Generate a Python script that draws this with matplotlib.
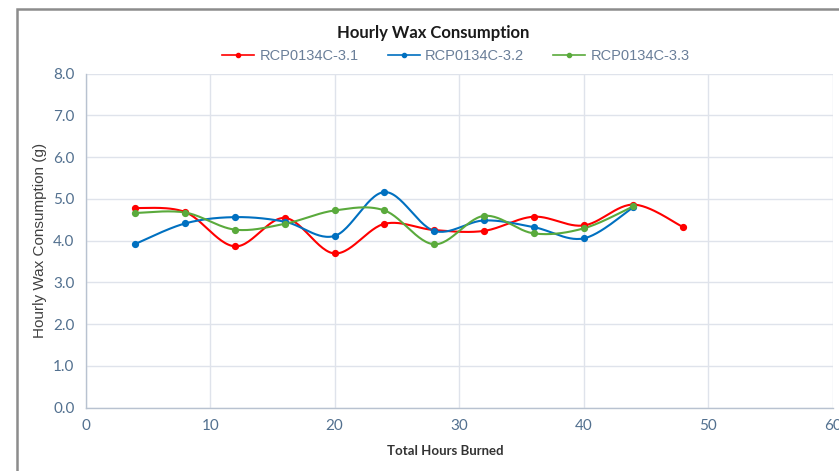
import numpy as np
import matplotlib
matplotlib.use("Agg")
import matplotlib.pyplot as plt
from matplotlib.patches import Rectangle

# ---- data ----
hours_31 = [4, 8, 12, 16, 20, 24, 28, 32, 36, 40, 44, 48]
wax_31 = [4.78, 4.68, 3.86, 4.54, 3.69, 4.40, 4.25, 4.23, 4.57, 4.36, 4.86, 4.32]
hours_32 = [4, 8, 12, 16, 20, 24, 28, 32, 36, 40, 44]
wax_32 = [3.92, 4.41, 4.56, 4.45, 4.11, 5.16, 4.23, 4.48, 4.32, 4.05, 4.80]
hours_33 = [4, 8, 12, 16, 20, 24, 28, 32, 36, 40, 44]
wax_33 = [4.66, 4.67, 4.26, 4.40, 4.72, 4.72, 3.91, 4.59, 4.17, 4.29, 4.82]
series_names = ["RCP0134C-3.1", "RCP0134C-3.2", "RCP0134C-3.3"]
colors = ["#ff0000", "#0070c0", "#5aaa3c"]
x_ticks = [0, 10, 20, 30, 40, 50, 60]
y_ticks = [0.0, 1.0, 2.0, 3.0, 4.0, 5.0, 6.0, 7.0, 8.0]


def smooth(xs, ys, n=30):
    """Excel-like smoothed line (Catmull-Rom Bezier) through data points."""
    p = np.column_stack([xs, ys]).astype(float)
    out = [p[0]]
    t = np.linspace(0, 1, n)[1:]
    for i in range(len(p) - 1):
        p0 = p[i - 1] if i > 0 else p[i]
        p1 = p[i]
        p2 = p[i + 1]
        p3 = p[i + 2] if i + 2 < len(p) else p[i + 1]
        c1 = p1 + (p2 - p0) / 6.0
        c2 = p2 - (p3 - p1) / 6.0
        for tt in t:
            b = ((1 - tt) ** 3) * p1 + 3 * ((1 - tt) ** 2) * tt * c1 \
                + 3 * (1 - tt) * tt ** 2 * c2 + tt ** 3 * p2
            out.append(b)
    out = np.array(out)
    return out[:, 0], out[:, 1]


W, H = 839, 471
fig = plt.figure(figsize=(W / 100, H / 100), dpi=100)
fig.patch.set_facecolor("white")

# outer chart border
fig.patches.append(Rectangle((16.5 / W, -0.1), 1.2, 1 - 8.5 / H + 0.1,
                             transform=fig.transFigure, fill=False,
                             edgecolor="#8c8c8c", linewidth=1.8, zorder=0))

ax = fig.add_axes([85.7 / W, 1 - 407.5 / H, (832.6 - 85.7) / W, (407.5 - 73.5) / H])

tick_color = "#52708f"
for xs, ys, c, name in zip([hours_31, hours_32, hours_33],
                           [wax_31, wax_32, wax_33], colors, series_names):
    sx, sy = smooth(xs, ys)
    ax.plot(sx, sy, color=c, linewidth=1.5, zorder=3)
    ax.plot(xs, ys, linestyle="none", marker="o", markersize=4.2, color=c, zorder=4)
    ax.plot([], [], color=c, linewidth=1.2, marker="o", markersize=3, label=name)

ax.set_xlim(0, 60)
ax.set_ylim(0, 8)
ax.set_xticks(x_ticks)
ax.set_yticks(y_ticks)
ax.set_xticklabels([str(v) for v in x_ticks], fontfamily="Lato", fontsize=11, color=tick_color)
ax.set_yticklabels([f"{v:.1f}" for v in y_ticks], fontfamily="Lato", fontsize=11, color=tick_color)
ax.tick_params(length=0, pad=8)
ax.grid(True, color="#dfe3eb", linewidth=1)
ax.set_axisbelow(True)
for s in ["top", "right"]:
    ax.spines[s].set_visible(False)
for s in ["left", "bottom"]:
    ax.spines[s].set_color("#b8c2d0")
    ax.spines[s].set_linewidth(1)

ax.set_ylabel("Hourly Wax Consumption (g)", fontfamily="Liberation Sans", fontsize=11,
              color="#404040")
ax.yaxis.set_label_coords((47 - 85.7) / (832.6 - 85.7), 0.5)
ax.set_xlabel("Total Hours Burned", fontfamily="Lato", fontsize=9.5, fontweight="bold",
              color="#333333")
ax.xaxis.set_label_coords((445 - 85.7) / (832.6 - 85.7), -(451 - 407.5) / (407.5 - 73.5))
ax.xaxis.label.set_va("center")

fig.text(433 / W, 1 - 33 / H, "Hourly Wax Consumption", ha="center", va="center",
         fontfamily="Lato", fontsize=12, fontweight="bold", color="#1a1a1a")

leg = fig.legend(loc="center", bbox_to_anchor=(456 / W, 1 - 56 / H), ncol=3,
                 frameon=False, prop={"family": "Liberation Sans", "size": 10.5},
                 handlelength=2.2, columnspacing=2.0, handletextpad=0.35)
for t in leg.get_texts():
    t.set_color("#6a7f99")

fig.savefig("out.png", dpi=100)
